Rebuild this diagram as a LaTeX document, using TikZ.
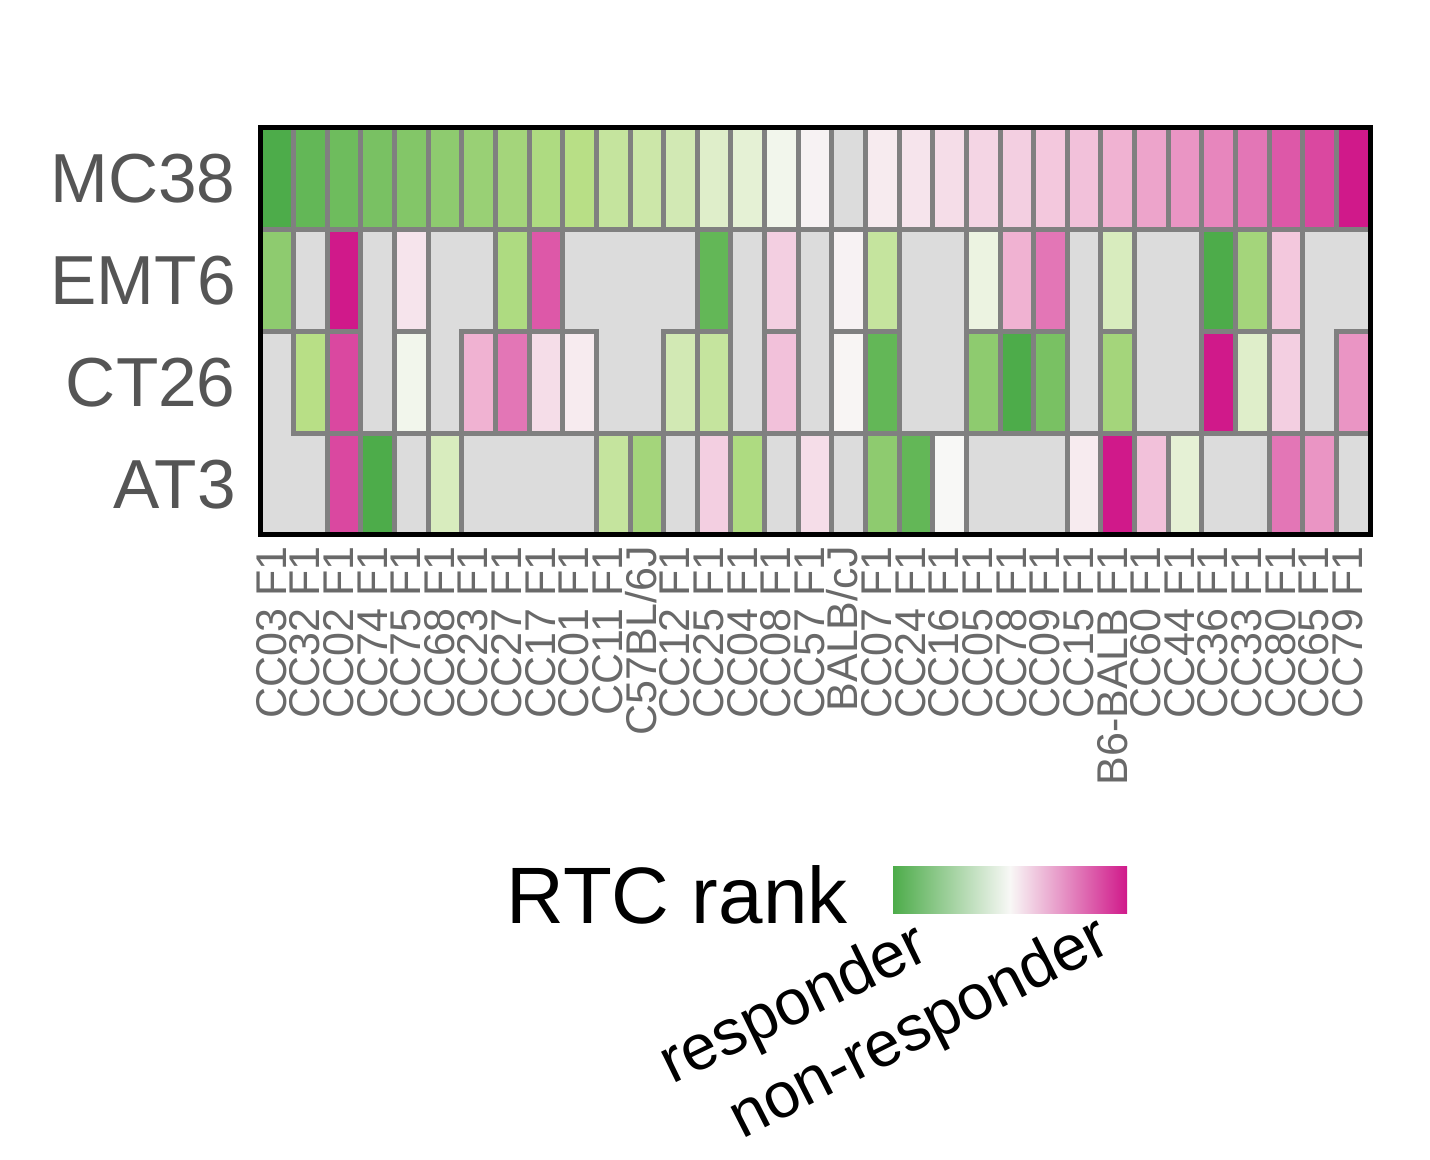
\documentclass[tikz,border=0pt]{standalone}
\usepackage{fontspec}
\setmainfont{Liberation Sans}
\definecolor{G1}{RGB}{77,172,74}
\definecolor{G2}{RGB}{184,223,134}
\definecolor{W}{RGB}{248,248,246}
\definecolor{P2}{RGB}{240,178,210}
\definecolor{P1}{RGB}{208,25,138}
\definecolor{NA}{RGB}{220,220,220}
\definecolor{BL}{RGB}{128,128,128}
\definecolor{TX}{RGB}{85,85,85}
\definecolor{TX2}{RGB}{105,105,105}
\newcommand\setcc[1]{%
  \pgfmathsetmacro\myt{abs(#1)/10}%
  \ifdim#1pt<0pt
    \ifdim\myt pt<0.5pt \pgfmathtruncatemacro\pp{200*\myt}\colorlet{cc}{G2!\pp!W}%
    \else \pgfmathtruncatemacro\pp{200*\myt-100}\colorlet{cc}{G1!\pp!G2}\fi
  \else
    \ifdim\myt pt<0.5pt \pgfmathtruncatemacro\pp{200*\myt}\colorlet{cc}{P2!\pp!W}%
    \else \pgfmathtruncatemacro\pp{200*\myt-100}\colorlet{cc}{P1!\pp!P2}\fi
  \fi}
\newcommand\val[2]{\csname dv-#1-#2\endcsname}
\def\cw{33.636}\def\rh{101.75}
\begin{document}
\begin{tikzpicture}[x=0.5pt,y=-0.5pt]
\foreach \rowlist [count=\r from 0] in {
{-10,-9,-8.5,-8,-7.5,-7,-6.5,-6,-5.5,-5,-4,-3.5,-3,-2,-1.5,-0.5,0.5,99,1,1.5,2,2.5,3,3.5,4,5,5.5,6,6.5,7,8,8.5,10},
{-7,99,10,99,1.5,99,99,-5.5,8,99,99,99,99,-9,99,3,99,0.5,-4,99,99,-1,5,7,99,-2.5,99,99,-10,-6,3.5,99,99},
{99,-5,8.5,99,-0.5,99,5,7,2,1,99,99,-3,-4,99,4,99,0.3,-9,99,99,-7,-10,-8,99,-6,99,99,10,-2,3,99,6},
{99,99,8.5,-10,99,-2.5,99,99,99,99,-4,-6,99,3,-5.5,99,2,99,-7,-9,0,99,99,99,1,10,4,-1.5,99,99,7,6,99}}{
  \foreach \x [count=\c from 0] in \rowlist {\expandafter\xdef\csname dv-\r-\c\endcsname{\x}}}
\useasboundingbox (0,0) rectangle (1430,1160);
\fill[NA] (260,128) rectangle (1370,535);
\foreach \r in {0,...,3}{\foreach \c in {0,...,32}{
  \edef\vv{\val{\r}{\c}}%
  \ifdim\vv pt<90pt \setcc{\vv}\fill[cc] (260+\c*\cw,128+\r*\rh) rectangle ++(\cw,\rh);\fi
}}
\foreach \r in {0,...,3}{\foreach \c [evaluate=\c as \d using int(\c+1)] in {0,...,31}{
  \edef\va{\val{\r}{\c}}\edef\vb{\val{\r}{\d}}%
  \def\ok{0}\ifdim\va pt<90pt \def\ok{1}\fi\ifdim\vb pt<90pt \def\ok{1}\fi
  \ifnum\ok=1 \draw[BL,line width=2.5pt,line cap=rect] (260+\c*\cw+\cw,128+\r*\rh) -- ++(0,\rh);\fi
}}
\foreach \r [evaluate=\r as \s using int(\r+1)] in {0,1,2}{\foreach \c in {0,...,32}{
  \edef\va{\val{\r}{\c}}\edef\vb{\val{\s}{\c}}%
  \def\ok{0}\ifdim\va pt<90pt \def\ok{1}\fi\ifdim\vb pt<90pt \def\ok{1}\fi
  \ifnum\ok=1 \draw[BL,line width=2.5pt,line cap=rect] (260+\c*\cw,128+\r*\rh+\rh) -- ++(\cw,0);\fi
}}
\draw[black,line width=2.5pt] (260,128) rectangle (1370,535);
\foreach \lab [count=\c from 0] in {MC38,EMT6,CT26,AT3}
  \node[TX,anchor=east,inner sep=0pt,font=\fontsize{34.7}{40}\selectfont] (row\c) at (236,128+\c*\rh+0.5*\rh) {\lab};
\foreach \lab [count=\c from 0] in {CC03 F1,CC32 F1,CC02 F1,CC74 F1,CC75 F1,CC68 F1,CC23 F1,CC27 F1,CC17 F1,CC01 F1,CC11 F1,C57BL/6J,CC12 F1,CC25 F1,CC04 F1,CC08 F1,CC57 F1,BALB/cJ,CC07 F1,CC24 F1,CC16 F1,CC05 F1,CC78 F1,CC09 F1,CC15 F1,B6-BALB F1,CC60 F1,CC44 F1,CC36 F1,CC33 F1,CC80 F1,CC65 F1,CC79 F1}
  \node[TX2,rotate=90,anchor=mid east,inner sep=0pt,font=\fontsize{21.5}{24}\selectfont] (col\c) at (260+\c*\cw+0.5*\cw+4,546) {\lab};
\shade[left color=G1,right color=P1,middle color=W] (893,866) rectangle (1127,913);
\node[anchor=base east,inner sep=0pt,font=\fontsize{40}{46}\selectfont] (rtc) at (848,923) {RTC rank};
\node[anchor=base west,rotate=26,inner sep=0pt,font=\fontsize{32}{38}\selectfont] (resp) at (672,1085) {responder};
\node[anchor=base west,rotate=27,inner sep=0pt,font=\fontsize{32}{38}\selectfont] (nresp) at (742,1140) {non-responder};
\end{tikzpicture}
\end{document}
